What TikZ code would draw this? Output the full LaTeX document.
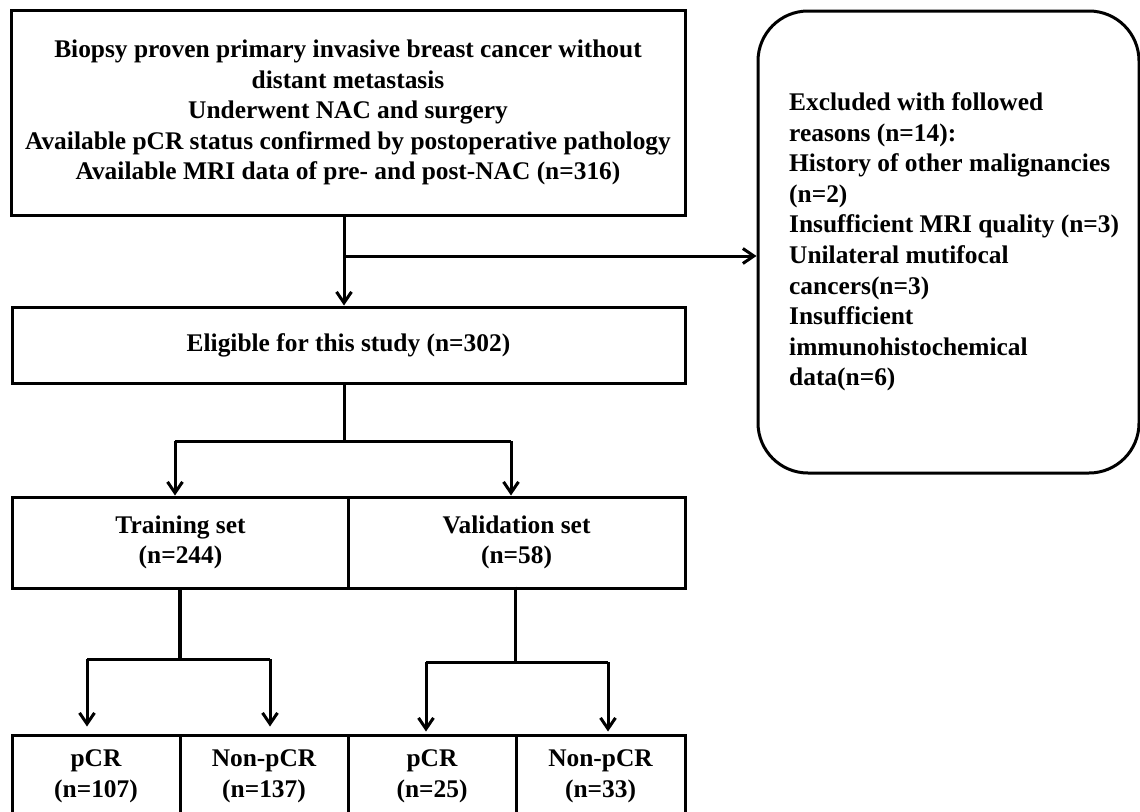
\documentclass[tikz,border=0pt]{standalone}
\usepackage{fontspec}
\setmainfont{Liberation Serif}
\usetikzlibrary{arrows.meta}
\begin{document}
\begin{tikzpicture}[x=1pt,y=-1pt,
  box/.style={draw, line width=3pt, inner sep=0pt, align=center,
    font=\bfseries\fontsize{25.4}{30.6}\selectfont},
  conn/.style={line width=3pt},
  arr/.style={line width=3pt, -{Straight Barb[length=11pt,width=15pt]}}]
\useasboundingbox (0,0) rectangle (1140,811);
\clip (0,0) rectangle (1140,811);
% boxes
\node[box, minimum width=674pt, minimum height=205pt] (top) at (348,112.5)
  {Biopsy proven primary invasive breast cancer without\\distant metastasis\\Underwent NAC and surgery\\Available pCR status confirmed by postoperative pathology\\Available MRI data of pre- and post-NAC (n=316)};
\node[box, minimum width=673pt, minimum height=76pt] (elig) at (348.5,345)
  {Eligible for this study (n=302)};
\node[box, minimum width=335.5pt, minimum height=91pt] (train) at (180.5,542.5)
  {Training set\\(n=244)};
\node[box, minimum width=337pt, minimum height=91pt] (val) at (516.5,542.5)
  {Validation set\\(n=58)};
\node[box, minimum width=168pt, minimum height=83pt] (p1) at (96,776.5)
  {pCR\\(n=107)};
\node[box, minimum width=168pt, minimum height=83pt] (n1) at (264,776.5)
  {Non-pCR\\(n=137)};
\node[box, minimum width=168pt, minimum height=83pt] (p2) at (432,776.5)
  {pCR\\(n=25)};
\node[box, minimum width=169pt, minimum height=83pt] (n2) at (600.5,776.5)
  {Non-pCR\\(n=33)};
\node[box, rounded corners=50pt, minimum width=381pt, minimum height=462pt] (excl) at (948.5,242) {};
\node[inner sep=0pt, anchor=west, align=left, font=\bfseries\fontsize{25.4}{30.6}\selectfont] (excltext) at (789,242)
  {Excluded with followed\\reasons (n=14):\\History of other malignancies\\(n=2)\\Insufficient MRI quality (n=3)\\Unilateral mutifocal\\cancers(n=3)\\Insufficient\\immunohistochemical\\data(n=6)};
% connectors
\coordinate (j1) at (344,256);
\draw[arr] (top.south -| j1) -- (elig.north -| j1);
\draw[arr] (j1) -- (excl.west |- j1);
\coordinate (s1) at (344,441);
\coordinate (a1) at (175,441);
\coordinate (a2) at (511,441);
\draw[conn] (elig.south -| s1) -- (s1);
\draw[conn] (a1) -- (a2);
\draw[arr] (a1) -- (train.north -| a1);
\draw[arr] (a2) -- (val.north -| a2);
% training split
\coordinate (t1) at (180,659);
\coordinate (b1) at (87,659);
\coordinate (b2) at (270,659);
\draw[line width=4.5pt] ([yshift=2pt]train.south -| t1) -- (t1);
\draw[conn] (b1) -- (b2);
\draw[arr, shorten >=7pt] (b1) -- (p1.north -| b1);
\draw[arr, shorten >=7pt] (b2) -- (n1.north -| b2);
% validation split
\coordinate (v1) at (515,662);
\coordinate (c1) at (426,662);
\coordinate (c2) at (608,662);
\draw[conn] ([yshift=3pt]val.south -| v1) -- (v1);
\draw[conn] (c1) -- (c2);
\draw[arr, shorten >=2pt] (c1) -- (p2.north -| c1);
\draw[arr, shorten >=2pt] (c2) -- (n2.north -| c2);
\end{tikzpicture}
\end{document}
